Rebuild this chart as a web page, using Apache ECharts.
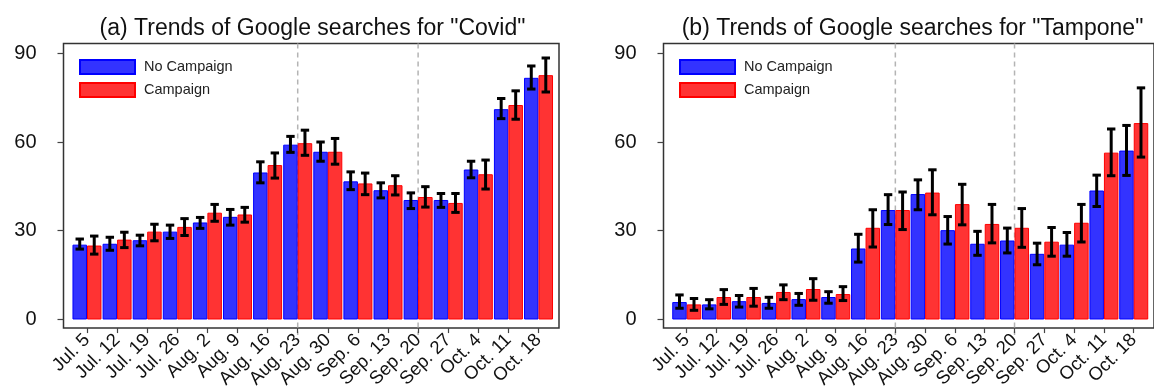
<!DOCTYPE html>
<html>
<head>
<meta charset="utf-8">
<script src="https://cdn.jsdelivr.net/npm/echarts@6/dist/echarts.min.js"></script>
<style>
  html, body { margin: 0; padding: 0; background: #fff; }
  #chart { width: 1154px; height: 391px; }
</style>
</head>
<body>
<div id="chart"></div>
<script>
// Weekly categories (x axis)
const weeks = ['Jul. 5', 'Jul. 12', 'Jul. 19', 'Jul. 26', 'Aug. 2', 'Aug. 9', 'Aug. 16', 'Aug. 23',
               'Aug. 30', 'Sep. 6', 'Sep. 13', 'Sep. 20', 'Sep. 27', 'Oct. 4', 'Oct. 11', 'Oct. 18'];

// (a) "Covid" search interest
const covidNoCampaign   = [25.3, 25.6, 26.8, 29.7, 32.8, 34.7, 49.7, 59.1, 56.7, 46.7, 43.7, 40.4, 40.4, 50.7, 71.1, 81.7];
const covidNoCampaignLo = [23.8, 23.4, 24.9, 27.4, 30.8, 31.9, 46.2, 56.5, 53.5, 43.9, 41.1, 37.5, 37.9, 47.9, 67.9, 77.9];
const covidNoCampaignHi = [27.2, 27.8, 28.5, 31.9, 34.5, 37.2, 53.3, 61.9, 60.0, 49.9, 46.2, 42.8, 42.6, 53.5, 74.7, 85.7];
const covidCampaign     = [25.0, 27.0, 29.7, 31.3, 36.1, 35.5, 52.2, 59.6, 56.7, 46.0, 45.4, 41.4, 39.4, 49.1, 72.5, 82.6];
const covidCampaignLo   = [22.1, 24.3, 26.6, 28.4, 33.2, 32.9, 47.8, 55.5, 52.5, 42.2, 42.1, 38.0, 36.2, 44.1, 67.7, 76.9];
const covidCampaignHi   = [28.2, 29.5, 32.2, 34.1, 38.9, 37.9, 56.3, 64.0, 61.2, 49.5, 48.6, 44.9, 42.6, 53.9, 77.3, 88.4];

// (b) "Tampone" search interest
const tamponeNoCampaign   = [5.9, 5.1, 6.2, 5.6, 6.9, 7.6, 24.0, 37.0, 42.4, 30.2, 25.6, 26.7, 22.2, 25.3, 43.6, 57.1];
const tamponeNoCampaignLo = [3.8, 3.6, 4.2, 3.8, 4.8, 5.5, 19.4, 32.1, 37.1, 25.5, 21.7, 22.5, 18.5, 21.4, 38.2, 48.7];
const tamponeNoCampaignHi = [8.3, 6.7, 8.1, 7.5, 8.8, 9.4, 28.8, 42.2, 47.2, 34.8, 29.8, 30.9, 25.8, 29.4, 48.8, 65.6];
const tamponeCampaign     = [5.1, 7.6, 7.6, 9.3, 10.3, 8.6, 31.0, 37.0, 42.9, 39.0, 32.3, 31.0, 26.3, 32.7, 56.4, 66.4];
const tamponeCampaignLo   = [3.1, 5.1, 4.5, 6.7, 6.5, 6.4, 24.5, 30.4, 35.4, 32.0, 25.9, 24.4, 21.4, 26.2, 48.6, 54.9];
const tamponeCampaignHi   = [7.1, 10.1, 10.5, 11.7, 13.8, 11.1, 37.1, 43.1, 50.6, 45.7, 38.9, 37.5, 31.1, 38.9, 64.4, 78.3];

// y-axis tick labels and the weeks marked by dashed lines (Aug. 23, Sep. 20)
const yTicks = [0, 30, 60, 90];
const markedWeeks = [7, 11];

const FONT = '"Liberation Sans", Arial, Helvetica, sans-serif';
const BAR_W = 14.5;
const Y_MIN = -2.9, Y_MAX = 93.3;
const X_MIN = -0.78, X_MAX = 15.68;

const panels = [
  { left: 63.5, title: '(a) Trends of Google searches for "Covid"',
    no: covidNoCampaign, noLo: covidNoCampaignLo, noHi: covidNoCampaignHi,
    cam: covidCampaign, camLo: covidCampaignLo, camHi: covidCampaignHi },
  { left: 663.5, title: '(b) Trends of Google searches for "Tampone"',
    no: tamponeNoCampaign, noLo: tamponeNoCampaignLo, noHi: tamponeNoCampaignHi,
    cam: tamponeCampaign, camLo: tamponeCampaignLo, camHi: tamponeCampaignHi }
];
const PLOT_W = 495.5, PLOT_TOP = 43.5, PLOT_H = 287;

const weekIdx = weeks.map((_, i) => i);

function errorBars(g, lo, hi, side) {
  return {
    type: 'custom', xAxisIndex: g, yAxisIndex: g, z: 5, silent: true,
    data: lo.map((l, i) => [i, l, hi[i]]),
    encode: { x: 0, y: [1, 2] },
    renderItem(params, api) {
      const x = api.coord([api.value(0), 0])[0] + side * BAR_W / 2;
      const yLo = api.coord([0, api.value(1)])[1];
      const yHi = api.coord([0, api.value(2)])[1];
      const cap = 4.2;
      const style = { stroke: '#000', lineWidth: 3 };
      return { type: 'group', children: [
        { type: 'line', shape: { x1: x, y1: yHi, x2: x, y2: yLo }, style },
        { type: 'line', shape: { x1: x - cap, y1: yHi, x2: x + cap, y2: yHi }, style },
        { type: 'line', shape: { x1: x - cap, y1: yLo, x2: x + cap, y2: yLo }, style }
      ] };
    }
  };
}

function markerLines(g) {
  return {
    type: 'custom', xAxisIndex: g, yAxisIndex: g, z: 0, silent: true,
    data: markedWeeks.map(w => [w]),
    encode: { x: 0 },
    renderItem(params, api) {
      const top = api.coord([api.value(0), Y_MAX]);
      const bot = api.coord([api.value(0), Y_MIN]);
      return { type: 'line', shape: { x1: top[0], y1: top[1], x2: bot[0], y2: bot[1] + 7 },
               style: { stroke: '#b4b4b4', lineWidth: 1.5, lineDash: [5, 4] } };
    }
  };
}

const option = {
  backgroundColor: '#fff',
  animation: false,
  title: panels.map(p => ({
    text: p.title, left: p.left + 244, top: 12, textAlign: 'center',
    textStyle: { fontFamily: FONT, fontSize: 23, fontWeight: 'normal', color: '#111' }
  })),
  legend: panels.map(p => ({
    data: ['No Campaign', 'Campaign'], orient: 'vertical', icon: 'rect',
    left: p.left + 10.5, top: 54, itemWidth: 55, itemHeight: 14, itemGap: 7,
    selectedMode: false,
    textStyle: { fontFamily: FONT, fontSize: 14.5, color: '#222', padding: [0, 0, 0, 4] }
  })),
  grid: panels.map(p => ({
    left: p.left, top: PLOT_TOP, width: PLOT_W, height: PLOT_H,
    show: true, borderColor: '#333', borderWidth: 1.5, backgroundColor: 'transparent'
  })),
  xAxis: panels.map((p, g) => ({
    type: 'value', gridIndex: g, min: X_MIN, max: X_MAX, position: 'bottom',
    axisLine: { show: false, onZero: false },
    splitLine: { show: false },
    axisTick: { show: true, inside: false, length: 5, customValues: weekIdx,
                lineStyle: { color: '#444', width: 1.2 } },
    axisLabel: { show: true, customValues: weekIdx, rotate: 45, margin: 9,
                 formatter: v => weeks[Math.round(v)],
                 fontFamily: FONT, fontSize: 18.5, color: '#111' }
  })),
  yAxis: panels.map((p, g) => ({
    type: 'value', gridIndex: g, min: Y_MIN, max: Y_MAX, position: 'left',
    axisLine: { show: false, onZero: false },
    splitLine: { show: false },
    axisTick: { show: true, inside: false, length: 6, customValues: yTicks,
                lineStyle: { color: '#444', width: 1.2 } },
    axisLabel: { show: true, customValues: yTicks, margin: 27,
                 fontFamily: FONT, fontSize: 20, color: '#111' }
  })),
  series: []
};

panels.forEach((p, g) => {
  option.series.push(markerLines(g));
  option.series.push({
    name: 'No Campaign', type: 'bar', xAxisIndex: g, yAxisIndex: g,
    data: p.no.map((v, i) => [i, v]), barWidth: BAR_W, barGap: '0%', z: 2,
    itemStyle: { color: '#3333ff', borderColor: '#0000ff', borderWidth: 1 }
  });
  option.series.push({
    name: 'Campaign', type: 'bar', xAxisIndex: g, yAxisIndex: g,
    data: p.cam.map((v, i) => [i, v]), barWidth: BAR_W, barGap: '0%', z: 2,
    itemStyle: { color: '#ff3333', borderColor: '#ff0000', borderWidth: 1 }
  });
  option.series.push(errorBars(g, p.noLo, p.noHi, -1));
  option.series.push(errorBars(g, p.camLo, p.camHi, 1));
});

const chart = echarts.init(document.getElementById('chart'), null, { renderer: 'canvas' });
chart.setOption(option);
</script>
</body>
</html>
